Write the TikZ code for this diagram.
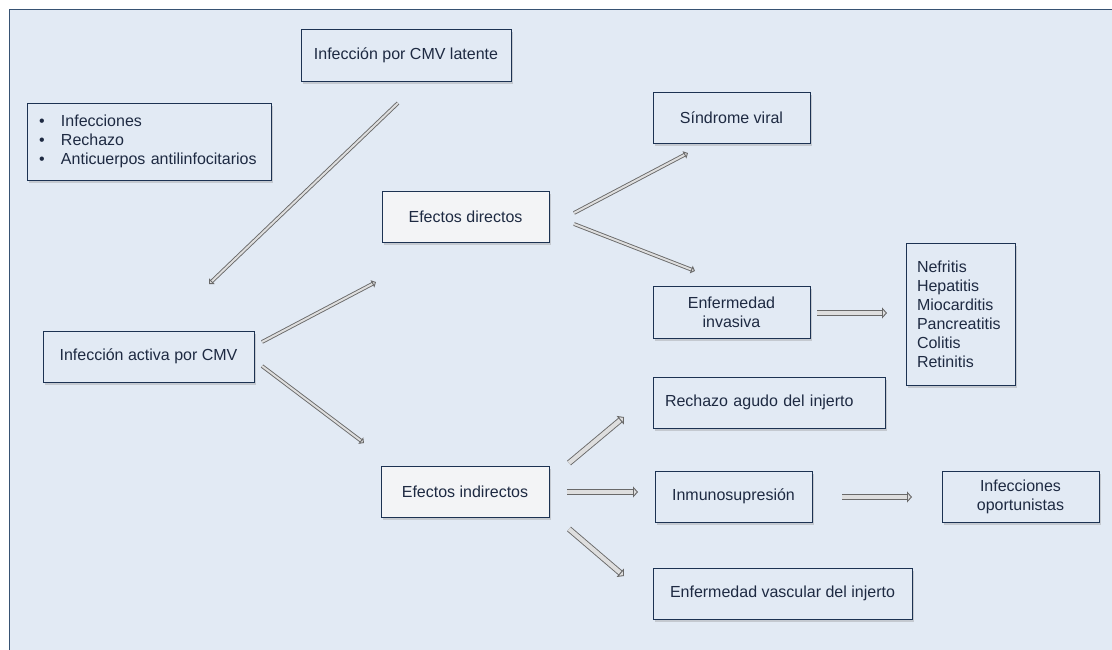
\documentclass[tikz,border=0pt]{standalone}
\usepackage{fontspec}
\setmainfont{Liberation Sans}
\usetikzlibrary{arrows.meta,shadows}
\definecolor{bgblue}{RGB}{226,234,244}
\definecolor{framecol}{RGB}{55,82,115}
\definecolor{boxblue}{RGB}{28,50,82}
\definecolor{txtblue}{RGB}{30,42,66}
\definecolor{effectfill}{RGB}{243,244,246}
\definecolor{arrowline}{RGB}{105,105,105}
\definecolor{arrowfill}{RGB}{222,222,222}

\begin{document}
\begin{tikzpicture}[x=1pt, y=-1pt,
    box/.style={draw=boxblue, line width=1pt, fill=bgblue, text=txtblue, inner sep=0pt, align=center,
      font=\fontsize{16}{19}\selectfont, drop shadow={shadow xshift=2pt, shadow yshift=-2.5pt, opacity=0.3}},
    effectbox/.style={box, fill=effectfill},
    thinarrow/.style={draw=arrowline, line width=0.9pt, double=arrowfill, double distance=2pt,
      -{Triangle[length=4pt, width=8pt, fill=arrowfill]}},
    thickarrow/.style={draw=arrowline, line width=0.9pt, double=arrowfill, double distance=4.2pt,
      -{Triangle[length=5pt, width=11pt, fill=arrowfill]}}]
    \useasboundingbox (0,0) rectangle (1112,649);
    \clip (0,0) rectangle (1112,649);

    % Background frame
    \draw[framecol, line width=1.1pt, fill=bgblue] (9.5,9.5) rectangle (1130,665);

    % Left column
    \node[box, minimum width=210pt, minimum height=52pt] (latent) at (406,55) {Infección por CMV latente};
    \node[box, minimum width=244pt, minimum height=77pt, text width=220pt, align=left] (risks) at (149,141.5)
      {\makebox[22pt][l]{\textbullet}Infecciones\\
       \makebox[22pt][l]{\textbullet}Rechazo\\
       \makebox[22pt][l]{\textbullet}Anticuerpos antilinfocitarios};
    \node[box, minimum width=211pt, minimum height=51pt] (active) at (148.5,356.5) {Infección activa por CMV};

    % Effects
    \node[effectbox, minimum width=167pt, minimum height=51pt] (direct) at (465.5,216.5) {Efectos directos};
    \node[effectbox, minimum width=168pt, minimum height=51pt] (indirect) at (465,491.5) {Efectos indirectos};

    % Direct effects
    \node[box, minimum width=157pt, minimum height=51pt] (viral) at (731.5,117.5) {Síndrome viral};
    \node[box, minimum width=157pt, minimum height=52pt] (invasive) at (731.5,312) {Enfermedad\\invasiva};
    \node[box, minimum width=109pt, minimum height=142pt, text width=87pt, align=left] (organs) at (960.5,314)
      {Nefritis\\Hepatitis\\Miocarditis\\Pancreatitis\\Colitis\\Retinitis};

    % Indirect effects
    \node[box, minimum width=232pt, minimum height=51pt, text width=208pt, align=left] (rejection) at (769,402.5)
      {Rechazo agudo del injerto};
    \node[box, minimum width=157pt, minimum height=51pt] (immuno) at (733.5,496.5) {Inmunosupresión};
    \node[box, minimum width=157pt, minimum height=51pt] (opportunist) at (1020.5,496.5) {Infecciones\\oportunistas};
    \node[box, minimum width=259pt, minimum height=51pt] (vascular) at (782.5,593.5) {Enfermedad vascular del injerto};

    % Arrow ends
    \coordinate (latent-out) at (398,103);
    \coordinate (active-in) at (209,284);
    \coordinate (active-up) at (262,342);
    \coordinate (active-down) at (262,366);
    \coordinate (direct-in) at (376,282);
    \coordinate (indirect-in) at (364,443);
    \coordinate (direct-up) at (574,213);
    \coordinate (direct-down) at (574,224);
    \coordinate (viral-in) at (688,153);
    \coordinate (invasive-in) at (695,271);
    \coordinate (invasive-out) at (817,313);
    \coordinate (organs-in) at (887,313);
    \coordinate (indirect-up) at (569,463);
    \coordinate (indirect-mid) at (567,492);
    \coordinate (indirect-down) at (569,529);
    \coordinate (rejection-in) at (624,417);
    \coordinate (immuno-in) at (638,492);
    \coordinate (vascular-in) at (624,576);
    \coordinate (immuno-out) at (842,497);
    \coordinate (opportunist-in) at (912,497);

    % Arrows
    \draw[thinarrow] (latent-out) -- (active-in);
    \draw[thinarrow] (active-up) -- (direct-in);
    \draw[thinarrow] (active-down) -- (indirect-in);
    \draw[thinarrow] (direct-up) -- (viral-in);
    \draw[thinarrow] (direct-down) -- (invasive-in);
    \draw[thickarrow] (invasive-out) -- (organs-in);
    \draw[thickarrow] (indirect-up) -- (rejection-in);
    \draw[thickarrow] (indirect-mid) -- (immuno-in);
    \draw[thickarrow] (indirect-down) -- (vascular-in);
    \draw[thickarrow] (immuno-out) -- (opportunist-in);
\end{tikzpicture}
\end{document}
